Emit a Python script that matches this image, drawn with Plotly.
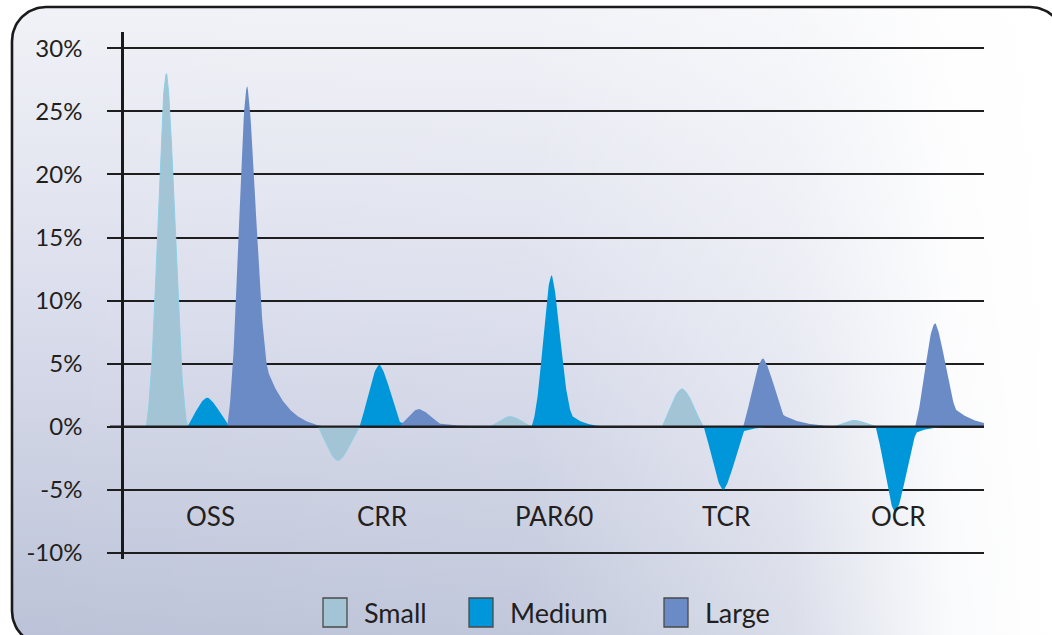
import numpy as np
import plotly.graph_objects as go

# ---------------- data ----------------
categories = ["OSS", "CRR", "PAR60", "TCR", "OCR"]
series_names = ["Small", "Medium", "Large"]
small_vals = [28.0, -2.7, 0.8, 3.0, 0.5]
medium_vals = [2.3, 4.9, 12.0, -5.0, -6.8]
large_vals = [27.0, 1.4, 0.0, 5.4, 8.2]
tick_vals = [-10, -5, 0, 5, 10, 15, 20, 25, 30]
tick_text = [f"{v}%" for v in tick_vals]

series_values = {"Small": small_vals, "Medium": medium_vals, "Large": large_vals}

# ---------------- style ----------------
W, H = 1052, 635
FONT = "Lato"
TXT = "#231f20"
GRID = "#1e1e1e"
fill_colors = {"Small": "#a3c4d4", "Medium": "#0097da", "Large": "#6b8bc7"}
line_colors = {"Small": "#8ccfe6", "Medium": "#0097da", "Large": "#6b8bc7"}
seg_start = {"Small": -0.37, "Medium": -0.13, "Large": 0.1}
SEG_W = 0.235
tail_k = {"Small": 0.12, "Medium": 0.3, "Large": 0.42}
tail_tau = {"Small": 0.25, "Medium": 0.5, "Large": 0.8}
tail_len = {"Small": 0.3, "Medium": 0.9, "Large": 1.4}


def glyph_profile(u, name, v):
    """peak-shaped glyph (height 1 at u=0.5); taller values get a narrower glyph"""
    alpha = np.clip((abs(v) - 2.0) / 10.0, 0, 1)
    sig = 1.0 - 0.4 * alpha
    d = np.abs(u - 0.5) / 0.5
    g0 = np.exp(-(1 / sig) ** 2)
    core = np.clip((np.exp(-(d / sig) ** 2) - g0) / (1 - g0), 0, None)
    core = np.where(d <= 1, core, 0)
    dr = np.clip(u - 0.5, 0, None)
    span = 0.5 + tail_len[name]
    tail = np.exp(-dr / tail_tau[name]) * np.clip(1 - dr / span, 0, 1)
    k = tail_k[name]
    return np.where(u <= 0.5, core, (1 - k) * core + k * tail)


fig = go.Figure()

# ---------------- background panel (pixel coordinates on x/y) ----------------
bx0, bx1, by0, by1, rad = 12, 1064, 7, 645, 34
corners = [
    (bx1 - rad, by0 + rad, -90, 0),
    (bx1 - rad, by1 - rad, 0, 90),
    (bx0 + rad, by1 - rad, 90, 180),
    (bx0 + rad, by0 + rad, 180, 270),
]
px, py = [], []
for cx, cy, a0, a1 in corners:
    t = np.radians(np.linspace(a0, a1, 24))
    px += list(cx + rad * np.cos(t))
    py += list(cy + rad * np.sin(t))
px.append(px[0])
py.append(py[0])
py_up = [H - v for v in py]

fig.add_trace(go.Scatter(
    x=px, y=py_up, xaxis="x", yaxis="y", mode="lines", fill="toself",
    line=dict(width=0), hoverinfo="skip", showlegend=False,
    fillgradient=dict(type="vertical", start=0, stop=H - by0,
                      colorscale=[[0, "#bcc3d8"], [0.5, "#d9dceb"], [1, "#f1f2f7"]]),
))
fig.add_trace(go.Scatter(
    x=px, y=py_up, xaxis="x", yaxis="y", mode="lines", fill="toself",
    line=dict(width=0), hoverinfo="skip", showlegend=False,
    fillgradient=dict(type="horizontal", start=bx0, stop=W,
                      colorscale=[[0, "rgba(255,255,255,0)"],
                                  [0.5, "rgba(255,255,255,0.08)"],
                                  [0.75, "rgba(255,255,255,0.45)"],
                                  [0.9, "rgba(255,255,255,0.92)"],
                                  [1, "rgba(255,255,255,1)"]]),
))
fig.add_trace(go.Scatter(
    x=px, y=py_up, xaxis="x", yaxis="y", mode="lines",
    line=dict(width=2.6, color="#1a1a1a"), hoverinfo="skip", showlegend=False,
))

# ---------------- data glyphs (on x2/y2) ----------------
for name in series_names:
    xs, ys = [], []
    for i, v in enumerate(series_values[name]):
        u = np.linspace(0, 1 + tail_len[name], 160)
        xs += list(i + seg_start[name] + u * SEG_W)
        ys += list(v * glyph_profile(u, name, v))
    fig.add_trace(go.Scatter(
        x=xs, y=ys, xaxis="x2", yaxis="y2", mode="lines", fill="tozeroy",
        fillcolor=fill_colors[name],
        line=dict(width=1 if name == "Small" else 0, color=line_colors[name]),
        name=name, showlegend=False, hoverinfo="skip",
    ))

# category labels
for i, c in enumerate(categories):
    fig.add_annotation(x=i, y=-7.05, xref="x2", yref="y2", text=c, showarrow=False,
                       font=dict(family=FONT, size=26, color=TXT))

# zero line above glyphs
fig.add_shape(type="line", xref="paper", yref="y2", x0=110 / W, x1=984 / W, y0=0, y1=0,
              line=dict(color=GRID, width=2.2), layer="above")

# custom legend
leg_x = [323, 469, 664]
for name, lx in zip(series_names, leg_x):
    fig.add_shape(type="rect", xref="paper", yref="paper",
                  x0=lx / W, x1=(lx + 24) / W, y0=(H - 627) / H, y1=(H - 598) / H,
                  fillcolor=fill_colors[name], line=dict(color="#4a4a4a", width=1.3),
                  layer="above")
    fig.add_annotation(x=(lx + 39) / W, y=(H - 612) / H, xref="paper", yref="paper",
                       text=name, showarrow=False, xanchor="left", yanchor="middle",
                       font=dict(family=FONT, size=27, color=TXT))

fig.update_layout(
    template="none",
    width=W, height=H, autosize=False,
    margin=dict(l=0, r=0, t=0, b=0, pad=0, autoexpand=False),
    paper_bgcolor="white", plot_bgcolor="rgba(0,0,0,0)",
    showlegend=False,
    xaxis=dict(domain=[0, 1], range=[0, W], visible=False, fixedrange=True, automargin=False),
    yaxis=dict(domain=[0, 1], range=[0, H], visible=False, fixedrange=True, automargin=False),
    xaxis2=dict(domain=[124 / W, 984 / W], range=[-0.5, 4.5], anchor="y2",
                showgrid=False, zeroline=False, showticklabels=False, ticks="",
                showline=False, automargin=False),
    yaxis2=dict(domain=[(H - 559) / H, (H - 32) / H], range=[-10.5, 31.3], anchor="x2",
                tickvals=tick_vals, ticktext=tick_text, automargin=False,
                showgrid=True, gridcolor=GRID, gridwidth=2.2,
                zeroline=False,
                ticks="outside", ticklen=14, tickwidth=2.2, tickcolor=GRID,
                showline=True, linecolor="#1a1a1a", linewidth=2.6,
                ticklabelstandoff=20,
                tickfont=dict(family=FONT, size=24, color=TXT)),
)

fig.write_html("out.html",
               config={"displayModeBar": False, "responsive": False},
               post_script="document.body.style.margin='0';document.body.style.overflow='hidden';")
